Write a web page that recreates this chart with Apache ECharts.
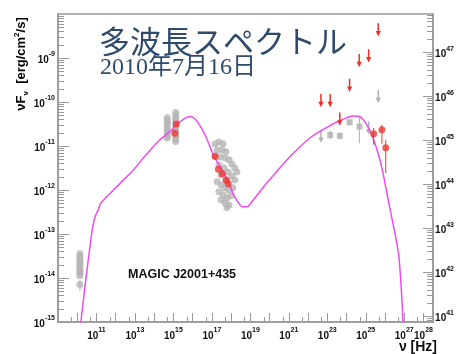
<!DOCTYPE html>
<html><head><meta charset="utf-8">
<script src="https://cdn.jsdelivr.net/npm/echarts@6/dist/echarts.min.js"></script>
<style>html,body{margin:0;padding:0;background:#fff}#c{width:457px;height:354px}</style>
</head><body><div id="c"></div>
<script>
// all values are log10 (frequency in Hz, nuFnu in erg/cm2/s)
const modelNu = [10.12,10.19,10.40,10.62,10.80,10.95,11.10,11.22,12.0,12.93,13.5,14.30,14.8,15.15,15.50,15.83,16.09,16.40,16.69,17.12,17.72,18.14,18.40,18.57,18.83,19.2,19.85,20.45,21.15,22.18,23.38,24.0,24.32,24.66,25.00,25.35,25.69,25.90,26.20,26.55,26.72,26.89,26.95];
const modelF  = [-15.3,-15.0,-14.2,-13.43,-12.85,-12.58,-12.44,-12.30,-11.95,-11.54,-11.24,-10.86,-10.68,-10.52,-10.40,-10.33,-10.37,-10.55,-10.79,-11.24,-11.69,-12.11,-12.30,-12.38,-12.38,-12.2,-11.84,-11.54,-11.20,-10.79,-10.48,-10.36,-10.32,-10.33,-10.48,-10.79,-11.24,-11.62,-12.30,-13.06,-13.51,-14.57,-15.3];

const grayNu = [10.14,10.14,10.14,10.14,10.14,10.14,10.14,10.14,10.14,10.14,10.14,10.14,
  14.68,14.68,14.68,14.68,14.68,14.68,14.68,14.68,14.68,
  15.12,15.12,15.12,15.12,15.12,15.12,15.12,15.12,15.12,15.12,15.12,15.12,
  17.17,17.37,17.58,17.27,17.53,17.73,17.17,17.43,17.68,17.89,18.04,18.19,18.30,17.37,17.63,17.84,18.04,18.19,17.48,17.73,17.27,17.48,17.68,17.89,18.09,17.37,17.58,17.78,17.99,17.48,17.68,17.89,17.78];
const grayF = [-13.45,-13.50,-13.55,-13.60,-13.65,-13.70,-13.75,-13.80,-13.85,-13.90,-13.95,-14.15,
  -10.36,-10.42,-10.48,-10.54,-10.60,-10.66,-10.72,-10.78,-10.82,
  -10.24,-10.30,-10.36,-10.42,-10.48,-10.54,-10.60,-10.66,-10.72,-10.78,-10.84,-10.90,
  -10.95,-10.91,-10.95,-11.09,-11.09,-11.13,-11.22,-11.25,-11.27,-11.31,-11.41,-11.50,-11.59,-11.43,-11.50,-11.59,-11.68,-11.77,-11.66,-11.77,-11.81,-11.88,-11.95,-12.00,-11.95,-12.04,-12.11,-12.18,-12.13,-12.22,-12.29,-12.34,-12.40];
const grayErrNu = [10.14, 17.78];
const grayErrLo = [-14.30, -12.48];
const grayErrHi = [-14.05, -12.30];

const sqNu = [23.15,23.65,24.16,24.67];
const sqF  = [-10.75,-10.77,-10.46,-10.56];
const sqLo = [-10.85,-10.85,-10.52,-10.94];
const sqHi = [-10.65,-10.69,-10.40,-10.33];

const ulGrayNu = [22.67,25.15,25.65];
const ulGrayF  = [-10.63,-10.44,-9.73];
const ulRedNu = [22.67,23.15,23.65,24.16,24.66,25.15,25.65];
const ulRedF  = [-9.82,-9.82,-10.24,-9.47,-8.91,-8.80,-8.21];

const redNu = [15.15,15.07,17.17,17.34,17.54,17.75,17.85,25.41,25.84,26.04];
const redF  = [-10.50,-10.71,-11.24,-11.53,-11.63,-11.78,-11.86,-10.72,-10.63,-11.04];
const redLo = [-10.50,-10.71,-11.24,-11.53,-11.63,-11.78,-11.86,-10.97,-10.95,-11.62];
const redHi = [-10.50,-10.71,-11.24,-11.53,-11.63,-11.78,-11.86,-10.59,-10.52,-10.86];

const xLabelExp = [11,13,15,17,19,21,23,25,27,28];
const xMajorExp = [10,11,12,13,14,15,16,17,18,19,20,21,22,23,24,25,26,27,28];
const yLabelExp = [-15,-14,-13,-12,-11,-10,-9];
const rLabelExp = [41,42,43,44,45,46,47];
const X_MIN = 9, X_MAX = 28.5, Y_MIN = -15, Y_MAX = -8;
const R_MIN = 40.873, R_MAX = 47.873;

const xMinor = xMajorExp.slice(0,-1).map(e => e - 1 + Math.log10(5)).concat([27 + Math.log10(5)]);
function logMinor(lo, hi) {
  const out = [];
  for (let d = Math.floor(lo) - 1; d <= Math.ceil(hi); d++) {
    for (let k = 2; k <= 9; k++) { const v = d + Math.log10(k); if (v > lo && v < hi) out.push(v); }
  }
  return out;
}
const yMinor = logMinor(Y_MIN, Y_MAX);
const rMinor = logMinor(R_MIN, R_MAX);

const F = 'Liberation Sans, Arial, sans-serif';
const rich = {
  b: {fontSize: 10, fontWeight: 'bold', fontFamily: F, color: '#111', lineHeight: 14, verticalAlign: 'bottom'},
  s: {fontSize: 7, fontWeight: 'bold', fontFamily: F, color: '#111', lineHeight: 8, verticalAlign: 'top'}
};
const pow = v => '{b|10}{s|' + Math.round(v) + '}';
const AX = '#999';

function arrowRender(color) {
  return function (params, api) {
    const x = api.value(0), y = api.value(1);
    const p1 = api.coord([x, y]);
    const p2 = api.coord([x, y - 0.3]);
    return {type: 'group', children: [
      {type: 'line', shape: {x1: p1[0], y1: p1[1], x2: p2[0], y2: p2[1] - 4}, style: {stroke: color, lineWidth: 1.5}},
      {type: 'polygon', shape: {points: [[p2[0] - 2.6, p2[1] - 5.5], [p2[0] + 2.6, p2[1] - 5.5], [p2[0], p2[1]]]}, style: {fill: color}}
    ]};
  };
}
function errRender(color) {
  return function (params, api) {
    const x = api.value(0);
    const a = api.coord([x, api.value(1)]);
    const b = api.coord([x, api.value(2)]);
    return {type: 'line', shape: {x1: a[0], y1: a[1], x2: b[0], y2: b[1]}, style: {stroke: color, lineWidth: 1}};
  };
}
const zip2 = (a, b) => a.map((v, i) => [v, b[i]]);
const zip3 = (a, b, c) => a.map((v, i) => [v, b[i], c[i]]);

const chart = echarts.init(document.getElementById('c'));
chart.setOption({
  animation: false,
  backgroundColor: '#fff',
  grid: {left: 58, top: 14, right: 19, bottom: 32, show: true, borderColor: AX, borderWidth: 1.5, backgroundColor: 'transparent'},
  xAxis: [
    {type: 'value', min: X_MIN, max: X_MAX, position: 'bottom',
      axisLine: {show: true, lineStyle: {color: AX, width: 1.5}},
      axisTick: {show: true, inside: true, length: 9, customValues: xMajorExp, lineStyle: {color: AX, width: 1}},
      axisLabel: {show: true, margin: 5, customValues: xLabelExp, formatter: pow, rich: rich},
      splitLine: {show: false}},
    {type: 'value', min: X_MIN, max: X_MAX, position: 'bottom',
      axisLine: {show: false}, axisLabel: {show: false}, splitLine: {show: false},
      axisTick: {show: true, inside: true, length: 5, customValues: xMinor, lineStyle: {color: AX, width: 1}}}
  ],
  yAxis: [
    {type: 'value', min: Y_MIN, max: Y_MAX, position: 'left',
      axisLine: {show: true, lineStyle: {color: AX, width: 1.5}},
      axisTick: {show: true, inside: true, length: 11, customValues: yLabelExp, lineStyle: {color: AX, width: 1}},
      axisLabel: {show: true, margin: 3, customValues: yLabelExp, formatter: pow, rich: rich},
      splitLine: {show: false}},
    {type: 'value', min: Y_MIN, max: Y_MAX, position: 'left',
      axisLine: {show: false}, axisLabel: {show: false}, splitLine: {show: false},
      axisTick: {show: true, inside: true, length: 6, customValues: yMinor, lineStyle: {color: AX, width: 1}}},
    {type: 'value', min: R_MIN, max: R_MAX, position: 'right',
      axisLine: {show: true, lineStyle: {color: AX, width: 1.5}},
      axisTick: {show: true, inside: true, length: 10, customValues: rLabelExp, lineStyle: {color: AX, width: 1}},
      axisLabel: {show: true, margin: 2, customValues: rLabelExp, formatter: pow, rich: rich},
      splitLine: {show: false}},
    {type: 'value', min: R_MIN, max: R_MAX, position: 'right',
      axisLine: {show: false}, axisLabel: {show: false}, splitLine: {show: false},
      axisTick: {show: true, inside: true, length: 6, customValues: rMinor, lineStyle: {color: AX, width: 1}}}
  ],
  series: [
    {type: 'custom', xAxisIndex: 0, yAxisIndex: 0, renderItem: errRender('#b5b5b5'), data: zip3(grayErrNu, grayErrLo, grayErrHi), z: 2},
    {type: 'scatter', xAxisIndex: 0, yAxisIndex: 0, symbol: 'circle', symbolSize: 7, itemStyle: {color: '#b5b5b5'}, data: zip2(grayNu, grayF), z: 2},
    {type: 'custom', xAxisIndex: 0, yAxisIndex: 0, renderItem: errRender('#b0b0b0'), data: zip3(sqNu, sqLo, sqHi), z: 2},
    {type: 'scatter', xAxisIndex: 0, yAxisIndex: 0, symbol: 'rect', symbolSize: 6, itemStyle: {color: '#b0b0b0'}, data: zip2(sqNu, sqF), z: 2},
    {type: 'custom', xAxisIndex: 0, yAxisIndex: 0, renderItem: arrowRender('#b0b0b0'), data: zip2(ulGrayNu, ulGrayF), z: 2},
    {type: 'line', xAxisIndex: 0, yAxisIndex: 0, data: zip2(modelNu, modelF), smooth: 0.25, showSymbol: false, clip: true,
      lineStyle: {color: '#ee4cee', width: 1.5}, z: 3},
    {type: 'custom', xAxisIndex: 0, yAxisIndex: 0, renderItem: errRender('#e8392f'), data: zip3(redNu, redLo, redHi), z: 4},
    {type: 'scatter', xAxisIndex: 0, yAxisIndex: 0, symbol: 'circle', symbolSize: 7, itemStyle: {color: '#ec3a32'}, data: zip2(redNu, redF), z: 4},
    {type: 'custom', xAxisIndex: 0, yAxisIndex: 0, renderItem: arrowRender('#e8302a'), data: zip2(ulRedNu, ulRedF), z: 4}
  ],
  graphic: [
    {type: 'text', x: 99, y: 41, z: 10, style: {text: '多波長スペクトル', font: '31px "Noto Sans CJK JP", sans-serif', fill: '#2f4b6c', align: 'left', verticalAlign: 'middle'}},
    {type: 'text', x: 100, y: 68, z: 10, style: {text: '2010年7月16日', font: '24px "Liberation Serif", "Noto Sans CJK JP", serif', fill: '#2f4b6c', align: 'left', verticalAlign: 'middle'}},
    {type: 'text', x: 128, y: 275, z: 10, style: {text: 'MAGIC J2001+435', font: 'bold 12.5px "Liberation Sans", Arial, sans-serif', fill: '#111', align: 'left', verticalAlign: 'middle'}},
    {type: 'text', x: 437, y: 347, z: 10, style: {text: '{a|ν [Hz]}', align: 'right', verticalAlign: 'middle',
      rich: {a: {fontSize: 14, fontWeight: 'bold', fontFamily: F, fill: '#111', color: '#111'}}}},
    {type: 'text', x: 21, y: 64, rotation: Math.PI / 2, z: 10, style: {
      text: '{a|νF}{sub|ν}{a|  [erg/cm}{sup|2}{a|/s]}', align: 'center', verticalAlign: 'middle',
      rich: {
        a: {fontSize: 13, fontWeight: 'bold', fontFamily: F, color: '#111', lineHeight: 17, verticalAlign: 'middle'},
        sub: {fontSize: 8, fontWeight: 'bold', fontFamily: F, color: '#111', lineHeight: 8, verticalAlign: 'bottom'},
        sup: {fontSize: 8, fontWeight: 'bold', fontFamily: F, color: '#111', lineHeight: 8, verticalAlign: 'top'}
      }}}
  ]
});
</script></body></html>
